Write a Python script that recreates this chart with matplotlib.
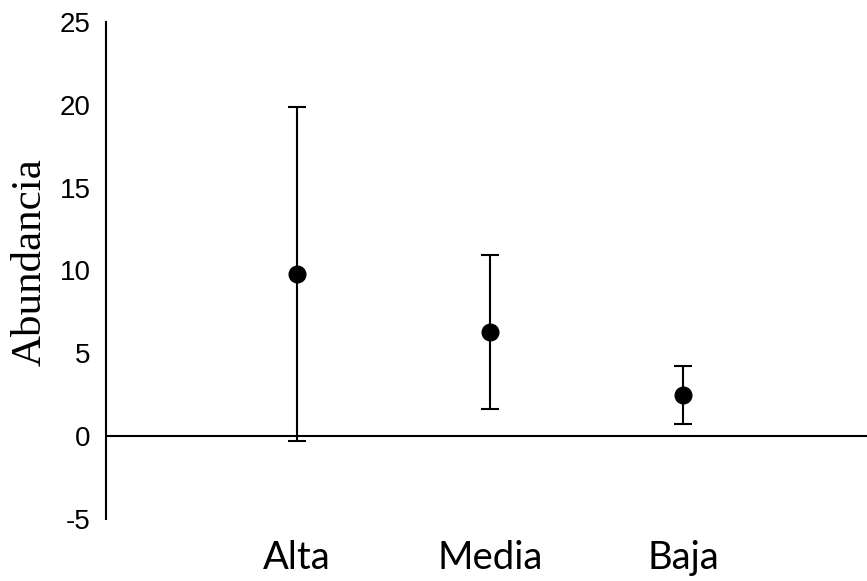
import matplotlib.pyplot as plt

categories = ['Alta', 'Media', 'Baja']
means = [9.76, 6.27, 2.47]
upper = [19.88, 10.92, 4.22]
lower = [-0.27, 1.63, 0.72]
yticks = [-5, 0, 5, 10, 15, 20, 25]


def main():
    fig = plt.figure(figsize=(8.67, 5.81), dpi=100)
    ax = fig.add_axes([106 / 867, 1 - 519 / 581, 1 - 106 / 867, (519 - 22) / 581])

    x = list(range(1, len(categories) + 1))
    err = [[m - lo for m, lo in zip(means, lower)],
           [up - m for m, up in zip(means, upper)]]
    ax.errorbar(x, means, yerr=err, fmt='o', color='black', ms=12,
                elinewidth=1.5, capsize=6.5, capthick=1.5, zorder=3)

    ax.axhline(0, color='black', lw=1.5, zorder=2)

    ax.set_ylim(-5, 25)
    ax.set_xlim(1 - 191 / 193, 3 + 184 / 193)
    ax.set_yticks(yticks)
    ax.set_yticklabels([str(t) for t in yticks], fontfamily='Liberation Sans', fontsize=20)
    ax.set_xticks(x)
    ax.set_xticklabels(categories, fontfamily='Lato', fontsize=27.5)
    ax.tick_params(axis='both', length=0)
    ax.tick_params(axis='y', pad=11)
    ax.tick_params(axis='x', pad=15)

    for side in ['top', 'right', 'bottom']:
        ax.spines[side].set_visible(False)
    ax.spines['left'].set_linewidth(1.5)

    fig.text(30 / 867, 1 - 262 / 581, 'Abundancia', rotation=90,
             ha='center', va='center', fontfamily='Liberation Serif', fontsize=31)

    fig.savefig('out.png', dpi=100)


if __name__ == '__main__':
    main()
